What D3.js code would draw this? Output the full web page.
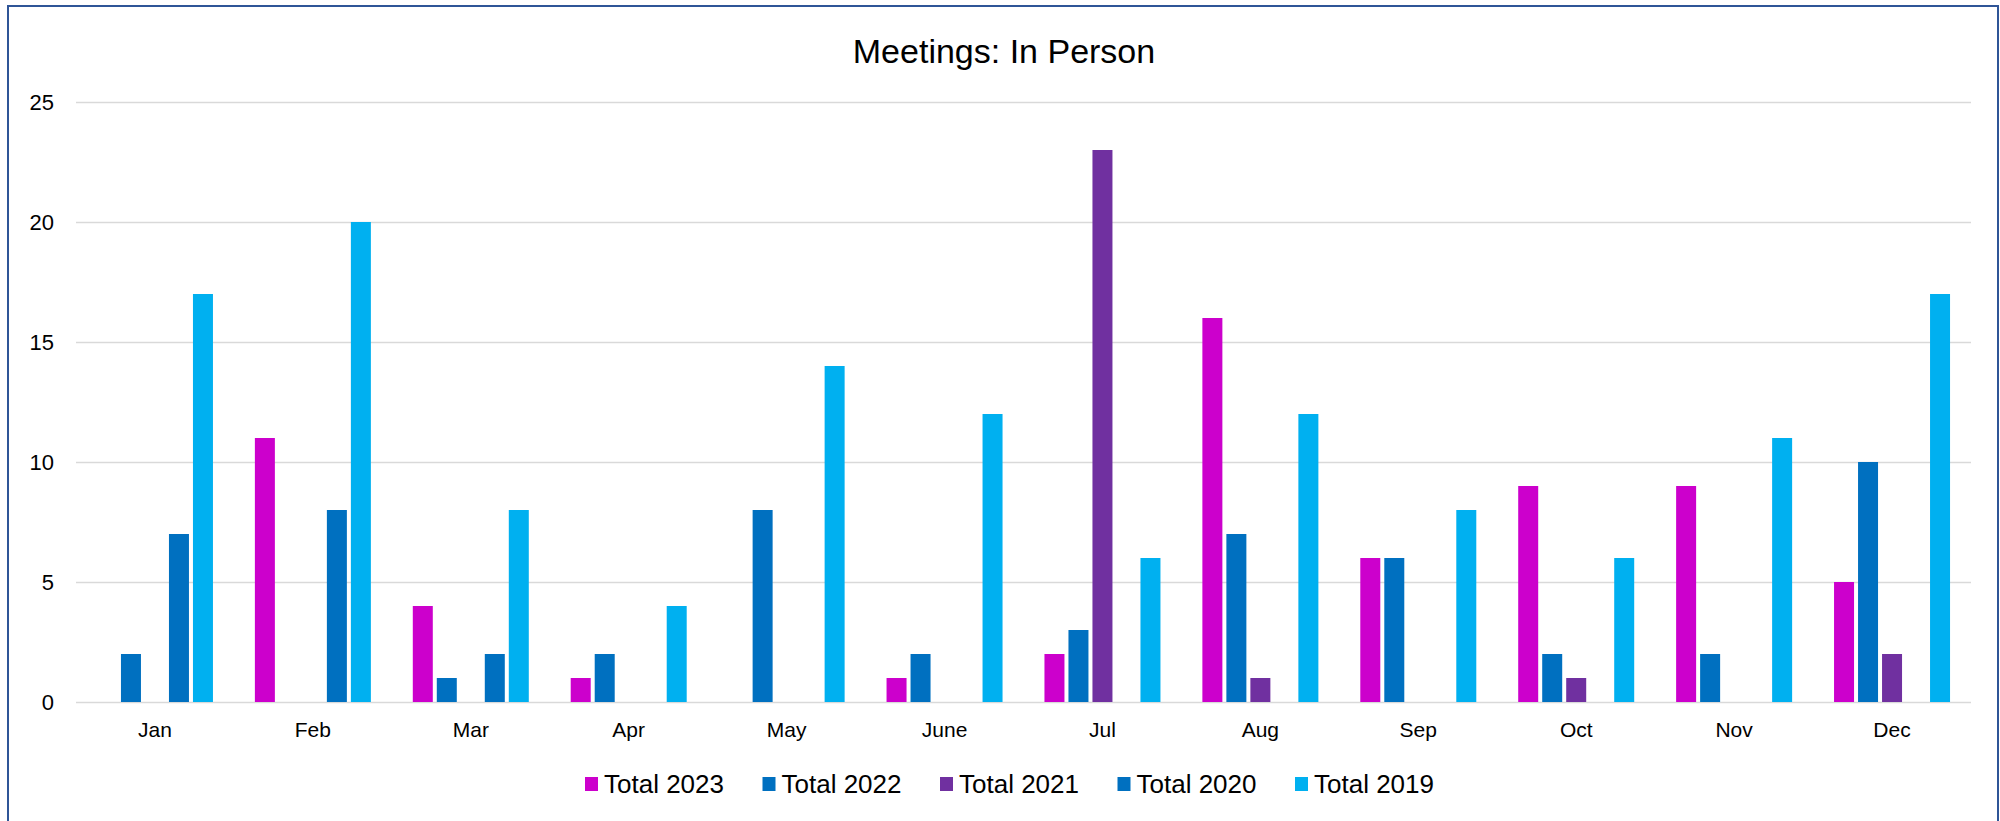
<!DOCTYPE html>
<html>
<head>
<meta charset="utf-8">
<script src="https://cdn.jsdelivr.net/npm/d3@7"></script>
<style>
  body { margin: 0; background: #fff; }
  text { font-family: "Liberation Sans", Arial, sans-serif; fill: #000; }
</style>
</head>
<body>
<script>
let w = 2000;
let h = 821;

let months = ["Jan", "Feb", "Mar", "Apr", "May", "June", "Jul", "Aug", "Sep", "Oct", "Nov", "Dec"];
let series = ["Total 2023", "Total 2022", "Total 2021", "Total 2020", "Total 2019"];
let colors = ["#CC00CC", "#0070C0", "#7030A0", "#0070C0", "#00B0F0"];

let total2023 = [0, 11, 4, 1, 0, 1, 2, 16, 6, 9, 9, 5];
let total2022 = [2, 0, 1, 2, 8, 2, 3, 7, 6, 2, 2, 10];
let total2021 = [0, 0, 0, 0, 0, 0, 23, 1, 0, 1, 0, 2];
let total2020 = [7, 8, 2, 0, 0, 0, 0, 0, 0, 0, 0, 0];
let total2019 = [17, 20, 8, 4, 14, 12, 6, 12, 8, 6, 11, 17];
let yTicks = [0, 5, 10, 15, 20, 25];

let values = [total2023, total2022, total2021, total2020, total2019];

let svg = d3.select("body").append("svg").attr("width", w).attr("height", h);

// outer frame
svg
  .append("rect")
  .attr("x", 8)
  .attr("y", 6)
  .attr("width", 1990)
  .attr("height", 830)
  .attr("fill", "none")
  .attr("stroke", "#2F5597")
  .attr("stroke-width", 2);

svg
  .append("text")
  .attr("x", 1004)
  .attr("y", 63)
  .attr("text-anchor", "middle")
  .style("font-size", "34px")
  .text("Meetings: In Person");

let xScale = d3.scaleBand().domain(months).range([76, 1971]);
let bw = xScale.bandwidth();
let xInner = d3
  .scaleBand()
  .domain(series)
  .range([(bw - 120) / 2, (bw + 120) / 2])
  .paddingInner(1 / 6)
  .paddingOuter(1 / 12);

let yScale = d3.scaleLinear().domain([0, 25]).range([702, 102]);

// gridlines
let y_axis = d3
  .axisLeft(yScale)
  .tickValues(yTicks)
  .tickSize(-(1971 - 76))
  .tickPadding(22);

let gy = svg.append("g").attr("transform", "translate(76,0)").call(y_axis);
gy.select(".domain").remove();
gy.selectAll(".tick line").attr("stroke", "#D9D9D9").attr("stroke-width", 1.5);
gy.selectAll(".tick text").style("font-size", "22px").attr("fill", "#000");

let x_axis = d3.axisBottom(xScale).tickSize(0).tickPadding(20);
let gx = svg.append("g").attr("transform", "translate(0,702)").call(x_axis);
gx.select(".domain").remove();
gx.selectAll(".tick text").style("font-size", "21px").attr("fill", "#000");

let rows = [];
months.forEach((m, i) => {
  series.forEach((s, j) => {
    rows.push({ month: m, series: s, value: values[j][i], color: colors[j] });
  });
});

svg
  .selectAll("rect.bar")
  .data(rows.filter((d) => d.value > 0))
  .enter()
  .append("rect")
  .attr("class", "bar")
  .attr("x", (d) => xScale(d.month) + xInner(d.series))
  .attr("width", xInner.bandwidth())
  .attr("y", (d) => yScale(d.value))
  .attr("height", (d) => yScale(0) - yScale(d.value))
  .attr("fill", (d) => d.color);

// legend
let legend = svg
  .selectAll("g.legend")
  .data(series)
  .enter()
  .append("g")
  .attr("class", "legend")
  .attr("transform", (d, i) => "translate(" + (585 + i * 177.5) + ",784)");

legend
  .append("rect")
  .attr("x", 0)
  .attr("y", -7)
  .attr("width", 13)
  .attr("height", 14)
  .attr("fill", (d, i) => colors[i]);

legend
  .append("text")
  .attr("x", 19)
  .attr("y", 0)
  .attr("dominant-baseline", "central")
  .style("font-size", "26px")
  .text((d) => d);
</script>
</body>
</html>
